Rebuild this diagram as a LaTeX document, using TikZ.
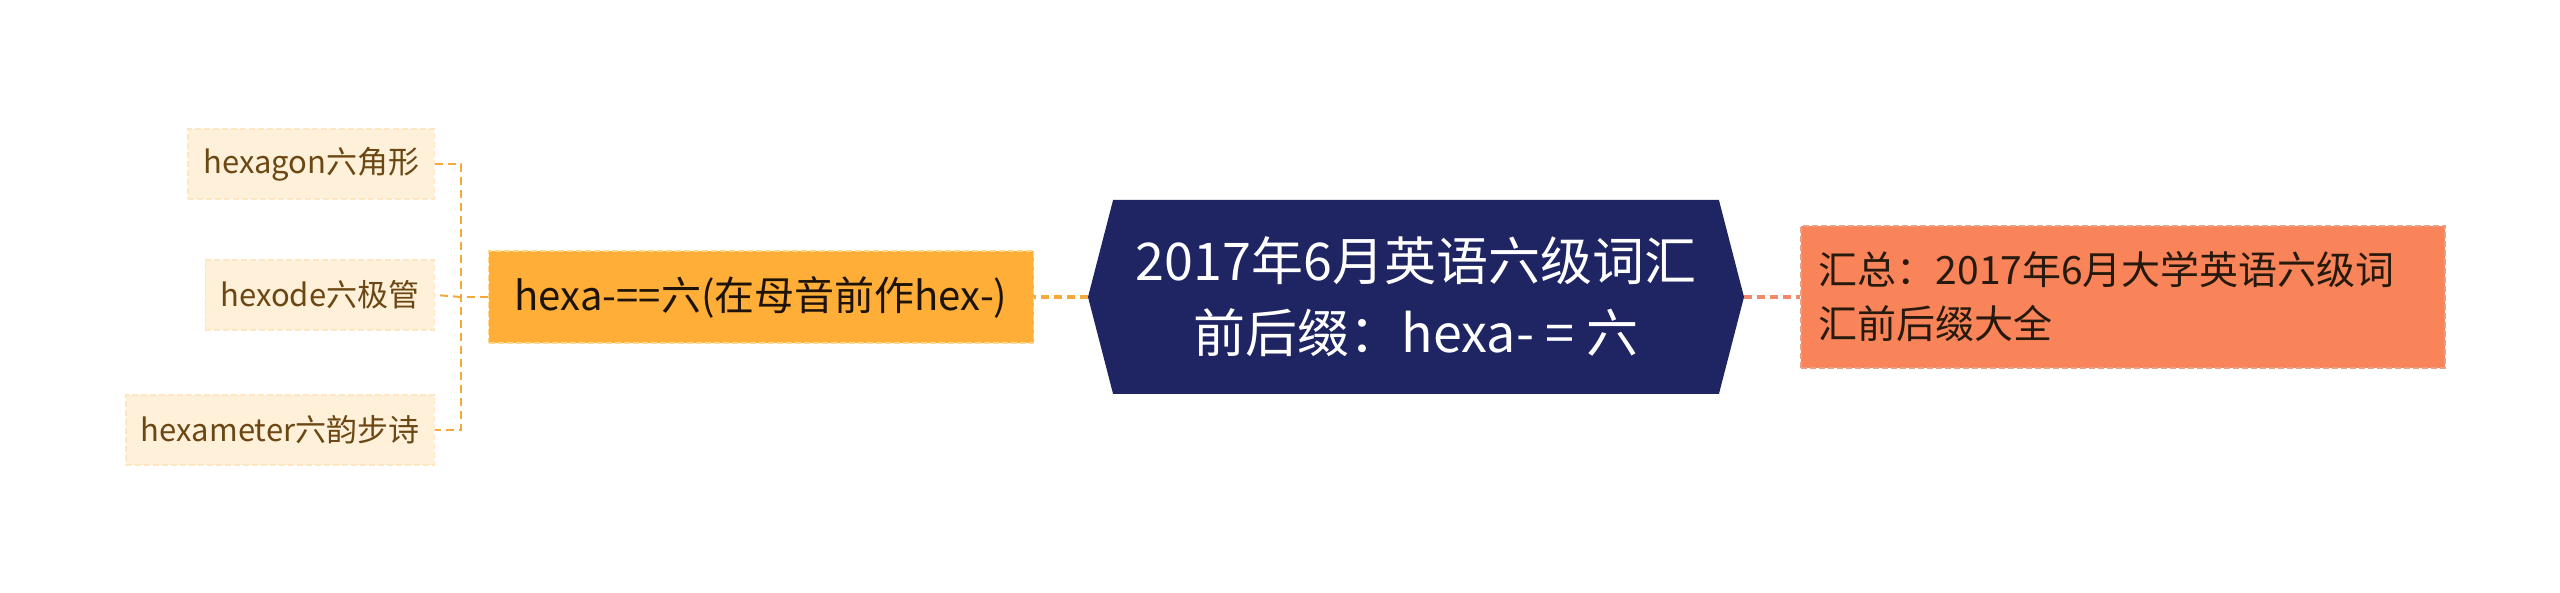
\documentclass[tikz,border=0pt]{standalone}
\usepackage{fontspec}
\setmainfont{Noto Sans CJK SC}
\usetikzlibrary{positioning,shapes.symbols}

\definecolor{rootbg}{HTML}{1F2562}
\definecolor{midbg}{HTML}{FFAF38}
\definecolor{midline}{HTML}{FFD68A}
\definecolor{leafbg}{HTML}{FFF0D9}
\definecolor{leafline}{HTML}{FFE6C2}
\definecolor{leaftext}{HTML}{6B4714}
\definecolor{sumbg}{HTML}{F9845A}
\definecolor{sumline}{HTML}{E8A184}
\definecolor{linkA}{HTML}{F7A83A}
\definecolor{linkB}{HTML}{F08A68}

\begin{document}
\begin{tikzpicture}[x=1pt,y=-1pt,
    leaf/.style={fill=leafbg, draw=leafline, dash pattern=on 6pt off 3pt, line width=1.5pt,
                 text=leaftext, font=\fontsize{31}{36}\selectfont,
                 minimum height=70pt, inner xsep=15pt, anchor=east},
    linkdash/.style={dash pattern=on 8pt off 5pt}]
    \useasboundingbox (0,0) rectangle (2560,593);

    % centre
    \node[signal, signal to=west and east, signal pointer angle=151,
          fill=rootbg, text=white, align=center,
          minimum width=656pt, minimum height=194pt, inner sep=0pt,
          font=\fontsize{52}{72}\selectfont] (root) at (1416,297)
          {2017年6月英语六级词汇\\前后缀：hexa- = 六};

    % left branch
    \node[fill=midbg, draw=midline, dash pattern=on 6pt off 3pt, line width=1.5pt,
          text=black!85!brown, font=\fontsize{40}{46}\selectfont,
          minimum width=545pt, minimum height=92pt, inner xsep=18pt] (hexa) at (761,297)
          {hexa-==六(在母音前作hex-)};

    \node[leaf] (hexagon) at (435,164) {hexagon六角形};
    \node[leaf] (hexode) at (435,295) {hexode六极管};
    \node[leaf] (hexameter) at (435,430) {hexameter六韵步诗};

    % right branch
    \node[fill=sumbg, draw=sumline, dash pattern=on 6pt off 3pt, line width=1.5pt,
          text=black!80!brown, font=\fontsize{39}{54}\selectfont, align=left,
          text width=608pt, minimum height=142pt, inner xsep=18pt, anchor=west] (summary) at (1800,297)
          {汇总：2017年6月大学英语六级词\\汇前后缀大全};

    % connectors
    \coordinate (fork) at (461,297);
    \draw[linkA, line width=4pt, linkdash] (root.west) -- (hexa.east);
    \draw[linkA, line width=2pt, linkdash] (hexa.west) -- (fork);
    \draw[linkA, line width=2pt, linkdash] (hexagon.east) -| (fork) |- (hexameter.east);
    \draw[linkA, line width=2pt, linkdash] (fork) -- (hexode.east);
    \draw[linkB, line width=4pt, linkdash] (root.east) -- (summary.west);
\end{tikzpicture}
\end{document}
